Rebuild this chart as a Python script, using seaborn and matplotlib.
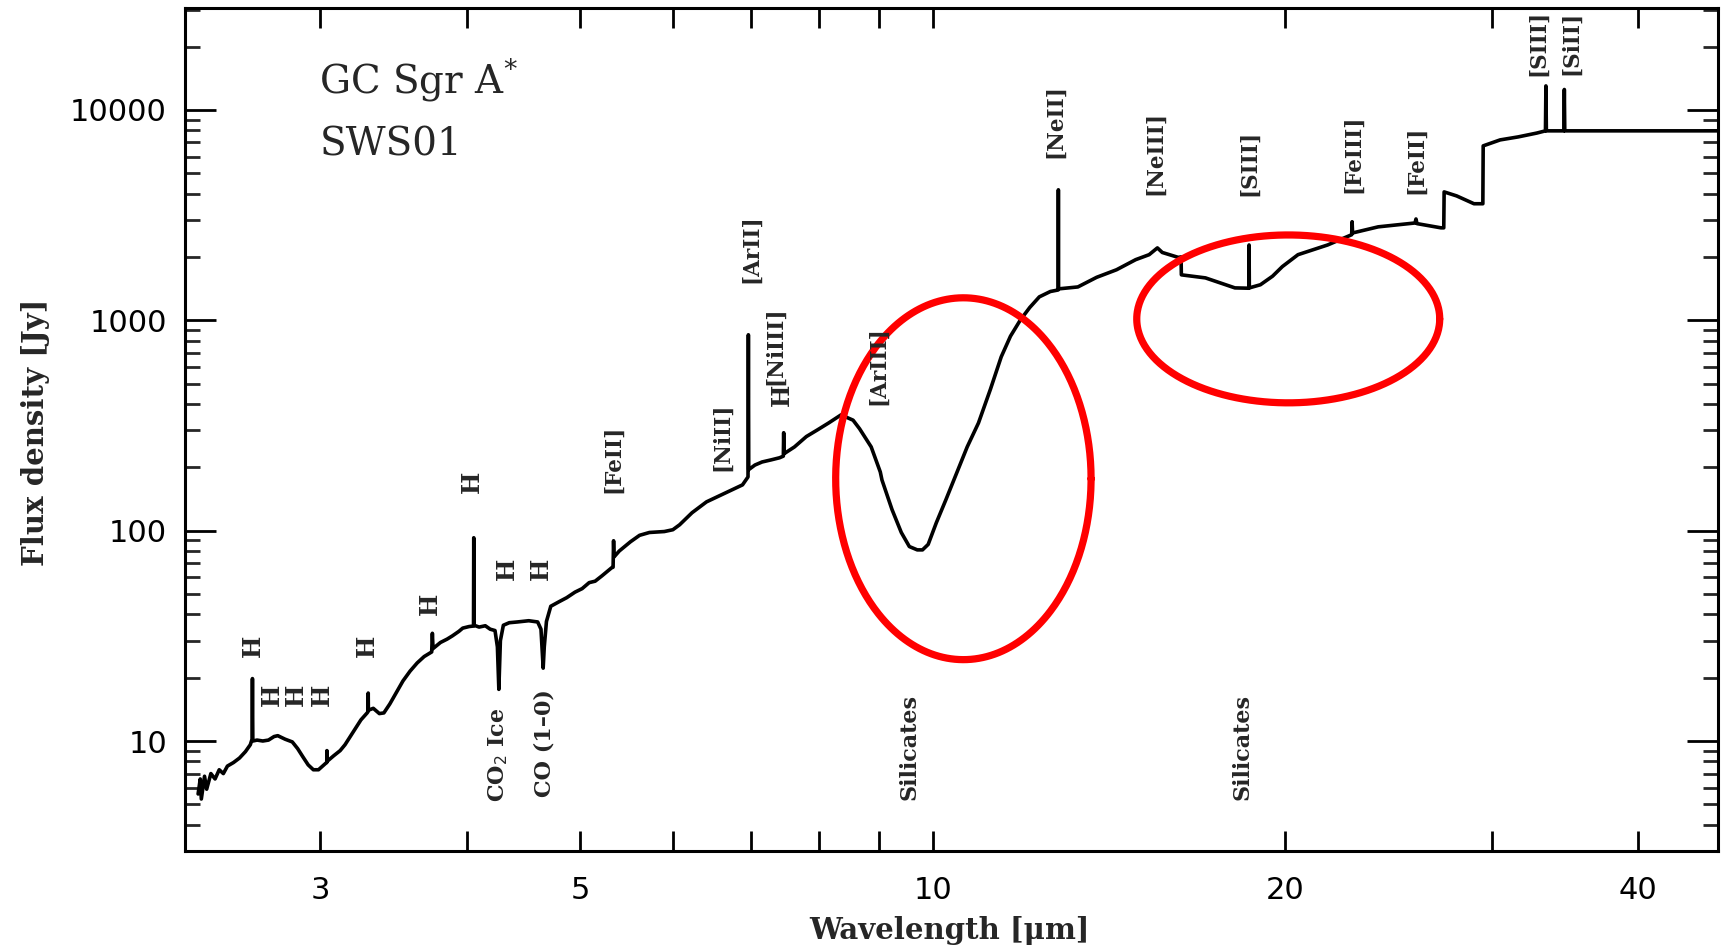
import numpy as np
import pandas as pd
import matplotlib
matplotlib.use("Agg")
import matplotlib.pyplot as plt
import seaborn as sns
from matplotlib.ticker import FixedLocator, FixedFormatter, LogLocator, NullFormatter, NullLocator

sns.set_style("ticks")
plt.rcParams['font.family'] = ['DejaVu Sans']

# ---------------- data ----------------
wavelength = [
    2.36, 2.37, 2.375, 2.39, 2.40, 2.42, 2.44, 2.46, 2.48, 2.50, 2.53, 2.56, 2.59, 2.615,
    2.624, 2.626, 2.628, 2.65, 2.68, 2.71, 2.74, 2.76, 2.80, 2.84, 2.87, 2.90, 2.93, 2.96,
    2.99, 3.03, 3.039, 3.040, 3.041, 3.08, 3.12, 3.15, 3.20, 3.25, 3.29, 3.296, 3.297, 3.298,
    3.33, 3.37, 3.40, 3.44, 3.48, 3.53, 3.58, 3.63, 3.68, 3.735, 3.740, 3.745, 3.80, 3.85,
    3.89, 3.94, 3.97, 4.02, 4.055, 4.057, 4.059, 4.10, 4.15, 4.19, 4.23, 4.25, 4.262, 4.275,
    4.30, 4.35, 4.42, 4.52, 4.60, 4.63, 4.650, 4.66, 4.68, 4.72, 4.80, 4.87, 4.95, 5.02,
    5.09, 5.15, 5.22, 5.32, 5.335, 5.34, 5.345, 5.40, 5.52, 5.62, 5.73, 5.90, 6.00, 6.08,
    6.23, 6.41, 6.65, 6.88, 6.955, 6.96, 6.965, 7.05, 7.15, 7.28, 7.40, 7.455, 7.46, 7.465,
    7.62, 7.80, 7.97, 8.15, 8.35, 8.55, 8.66, 8.86, 9.02, 9.05, 9.23, 9.40, 9.55, 9.70,
    9.80, 9.91, 10.07, 10.26, 10.49, 10.70, 10.94, 11.20, 11.44, 11.65, 11.88, 12.10, 12.33,
    12.60, 12.795, 12.80, 12.805, 13.30, 13.80, 14.35, 14.90, 15.30, 15.55, 15.70, 16.20,
    16.29, 16.30, 17.09, 18.11, 18.61, 18.62, 18.63, 19.04, 19.50, 19.88, 20.50, 21.73,
    22.78, 22.80, 22.82, 24.00, 25.80, 25.85, 25.90, 27.15, 27.30, 27.32, 28.00, 28.97,
    29.48, 29.50, 30.50, 31.60, 32.78, 33.34, 33.37, 33.40, 34.57, 34.60, 34.63, 47.0,
]
flux = [
    5.6, 6.6, 5.3, 6.8, 5.9, 7.0, 6.6, 7.3, 7.0, 7.6, 7.9, 8.3, 8.9, 9.6,
    10.2, 19.8, 10.0, 10.1, 10.0, 10.1, 10.5, 10.6, 10.2, 9.9, 9.2, 8.4, 7.7, 7.3,
    7.3, 7.8, 7.9, 9.0, 8.0, 8.5, 9.0, 9.6, 11.0, 12.6, 13.6, 13.8, 16.9, 14.0,
    14.3, 13.5, 13.6, 15.0, 16.8, 19.3, 21.5, 23.5, 25.2, 26.5, 32.5, 27.5, 29.4, 30.5,
    31.6, 33.2, 34.4, 35.0, 35.2, 92.5, 35.5, 34.8, 35.3, 34.0, 33.5, 28.0, 17.6, 30.0,
    35.5, 36.5, 36.8, 37.3, 36.8, 34.0, 22.2, 28.0, 37.0, 43.7, 46.0, 48.0, 51.0, 53.0,
    56.6, 57.5, 61.0, 66.6, 67.0, 89.5, 75.0, 80.0, 88.5, 95.0, 98.0, 99.0, 101.0, 106.6,
    121.6, 137.0, 151.0, 165.0, 180.0, 853.0, 195.0, 205.0, 212.0, 217.0, 222.0, 226.0, 292.0, 232.0,
    250.0, 280.0, 301.0, 325.0, 355.0, 335.0, 305.0, 250.0, 190.0, 174.0, 126.0, 98.0, 84.0, 81.0,
    81.0, 86.0, 109.0, 140.0, 190.0, 250.0, 325.0, 470.0, 670.0, 840.0, 1004.0, 1150.0, 1292.0,
    1370.0, 1393.0, 4170.0, 1410.0, 1440.0, 1600.0, 1738.0, 1941.0, 2050.0, 2208.0, 2100.0, 1990.0,
    2000.0, 1644.0, 1590.0, 1425.0, 1420.0, 2280.0, 1425.0, 1475.0, 1620.0, 1800.0, 2050.0, 2280.0,
    2550.0, 2940.0, 2600.0, 2780.0, 2900.0, 3030.0, 2880.0, 2750.0, 2750.0, 4075.0, 3900.0, 3580.0,
    3580.0, 6745.0, 7200.0, 7440.0, 7760.0, 7950.0, 13000.0, 7950.0, 7950.0, 12500.0, 7950.0, 7950.0,
]

# line identifications: text, wavelength, flux position
line_labels = ["H", "H", "H", "H", "H", "H", "H", "H", "H",
               "[FeII]", "[NiII]", "[ArII]", "[NiIII]", "H", "[ArIII]",
               "[NeII]", "[NeIII]", "[SIII]", "[FeIII]", "[FeII]", "[SIII]", "[SiII]"]
line_label_wl = [2.627, 2.730, 2.858, 3.011, 3.289, 3.724, 4.04, 4.33, 4.63,
                 5.34, 6.61, 7.00, 7.33, 7.44, 8.99,
                 12.73, 15.47, 18.63, 22.85, 25.85, 32.85, 35.05]
line_label_y = [28.2, 16.6, 16.6, 16.6, 28.2, 45.0, 170.0, 66.0, 66.0,
                220.0, 280.0, 2186.0, 760.0, 440.0, 608.0,
                8850.0, 6240.0, 5600.0, 6165.0, 5805.0, 20800.0, 20800.0]

band_labels = ["CO$_2$ Ice", "CO (1\u20130)", "Silicates", "Silicates"]
band_label_wl = [4.26, 4.66, 9.56, 18.39]
band_label_y = [8.65, 9.75, 9.36, 9.36]

x_ticks = [3, 4, 5, 6, 7, 8, 9, 10, 20, 30, 40]
x_tick_labels = ["3", "", "5", "", "", "", "", "10", "20", "", "40"]
y_ticks = [10, 100, 1000, 10000]
y_tick_labels = ["10", "100", "1000", "10000"]

# highlight ellipses (centre wavelength, half width in dex, centre flux, half height in dex)
ell_wl = [10.62, 20.11]
ell_dx = [0.109, 0.1293]
ell_fl = [176.5, 1015.0]
ell_dy = [0.860, 0.399]

# ---------------- plot ----------------
fig = plt.figure(figsize=(17.27, 9.5), dpi=100)
fig.patch.set_facecolor("white")
ax = fig.add_axes([185 / 1727, 99 / 950, (1718 - 185) / 1727, (851 - 8) / 950])
ax.set_xscale("log")
ax.set_yscale("log")

df = pd.DataFrame({"wl": wavelength, "flux": flux})
sns.lineplot(data=df, x="wl", y="flux", sort=False, estimator=None,
             color="black", linewidth=2.6, ax=ax, legend=False)

t = np.linspace(0, 2 * np.pi, 400)
for cw, dx, cf, dy in zip(ell_wl, ell_dx, ell_fl, ell_dy):
    ex = 10 ** (np.log10(cw) + dx * np.cos(t))
    ey = 10 ** (np.log10(cf) + dy * np.sin(t))
    ax.plot(ex, ey, color="#ff0000", linewidth=5.2, zorder=5)

ax.set_xlim(2.30, 46.8)
ax.set_ylim(3.0, 30500)

ax.xaxis.set_major_locator(FixedLocator(x_ticks))
ax.xaxis.set_major_formatter(FixedFormatter(x_tick_labels))
ax.xaxis.set_minor_locator(NullLocator())
ax.yaxis.set_major_locator(FixedLocator(y_ticks))
ax.yaxis.set_major_formatter(FixedFormatter(y_tick_labels))
ax.yaxis.set_minor_locator(LogLocator(base=10, subs=np.arange(2, 10)))
ax.yaxis.set_minor_formatter(NullFormatter())

ax.tick_params(axis="x", which="major", direction="in", length=14.5, width=2.0,
               top=True, bottom=True, pad=18, labelsize=22, colors="black")
ax.tick_params(axis="y", which="major", direction="in", length=22, width=2.0,
               left=True, right=True, pad=13, labelsize=22, colors="black")
ax.tick_params(axis="y", which="minor", direction="in", length=10.5, width=2.0,
               left=True, right=True)
for sp in ax.spines.values():
    sp.set_linewidth(2.2)
    sp.set_color("black")
    sp.set_visible(True)

serif = ["DejaVu Serif"]
ax.set_xlabel("Wavelength [\u03bcm]", fontsize=21, fontweight="bold", family=serif)
ax.set_ylabel("Flux density [Jy]", fontsize=21, fontweight="bold", family=serif)
ax.xaxis.label.set_va("center")
ax.yaxis.label.set_va("center")
ax.xaxis.set_label_coords(0.4986, -0.094)
ax.yaxis.set_label_coords(-0.0977, 0.497)

for txt, wl, yv in zip(line_labels, line_label_wl, line_label_y):
    ax.text(wl, yv, txt, rotation=90, ha="center", va="center", rotation_mode="anchor",
            fontsize=15.5 if txt != "H" else 17, fontweight="bold", family=serif, zorder=6)
for txt, wl, yv in zip(band_labels, band_label_wl, band_label_y):
    ax.text(wl, yv, txt, rotation=90, ha="center", va="center", rotation_mode="anchor",
            fontsize=16, fontweight="bold", family=serif, zorder=6)

ax.text(0.0876, 0.915, "GC Sgr A$^{*}$", transform=ax.transAxes, fontsize=28,
        family=serif, va="center", ha="left")
ax.text(0.0876, 0.838, "SWS01", transform=ax.transAxes, fontsize=28,
        family=serif, va="center", ha="left")

fig.savefig("out.png", dpi=100, facecolor="white")
